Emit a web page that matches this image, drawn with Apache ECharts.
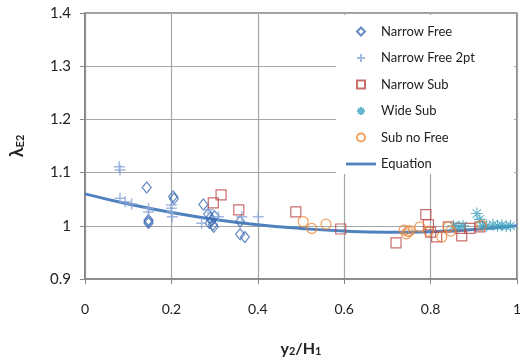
<!DOCTYPE html>
<html><head><meta charset="utf-8">
<script src="https://cdn.jsdelivr.net/npm/echarts@6/dist/echarts.min.js"></script>
<style>html,body{margin:0;padding:0;background:#fff}#c{width:520px;height:362px}</style>
</head><body><div id="c"></div>
<script>
var xTicks = [0, 0.2, 0.4, 0.6, 0.8, 1];
var yTicks = [0.9, 1, 1.1, 1.2, 1.3, 1.4];
var seriesNames = ['Narrow Free', 'Narrow Free 2pt', 'Narrow Sub', 'Wide Sub', 'Sub no Free', 'Equation'];

var narrowFree = [[0.143,1.072],[0.147,1.011],[0.147,1.008],[0.147,1.005],[0.204,1.055],[0.206,1.051],
  [0.274,1.040],[0.285,1.022],[0.290,1.015],[0.293,1.010],[0.288,1.005],[0.296,1.002],[0.298,0.998],
  [0.300,1.018],[0.359,1.008],[0.359,0.984],[0.370,0.979]];
var narrowFree2pt = [[0.079,1.111],[0.081,1.105],[0.081,1.052],[0.093,1.045],[0.108,1.041],[0.147,1.033],
  [0.147,1.026],[0.200,1.039],[0.200,1.033],[0.200,1.026],[0.202,1.017],[0.270,1.005],[0.285,1.030],
  [0.309,1.017],[0.363,1.017],[0.401,1.017]];
var narrowSub = [[0.297,1.043],[0.315,1.058],[0.356,1.030],[0.488,1.026],[0.592,0.994],[0.720,0.968],
  [0.789,1.021],[0.795,1.002],[0.800,0.988],[0.814,0.979],[0.841,0.998],[0.868,0.995],[0.872,0.981],
  [0.891,0.995],[0.914,0.998]];
var wideSub = [[0.853,1.000],[0.865,0.998],[0.875,1.000],[0.907,1.023],[0.914,1.012],[0.920,1.000],
  [0.930,1.000],[0.944,1.002],[0.955,1.000],[0.965,1.001],[0.975,0.999],[0.985,1.000]];
var subNoFree = [[0.505,1.008],[0.525,0.995],[0.558,1.003],[0.739,0.992],[0.744,0.985],[0.748,0.989],
  [0.752,0.991],[0.775,0.998],[0.795,0.990],[0.826,0.979],[0.841,0.998],[0.847,0.990],[0.918,1.001]];
var equation = [[0,1.060],[0.1,1.041],[0.2,1.025],[0.3,1.012],[0.4,1.002],[0.5,0.995],[0.6,0.990],
  [0.7,0.988],[0.8,0.989],[0.9,0.993],[1.0,1.000]];

var font = 'Lato, "Open Sans", sans-serif';
function hollow(c){ return {color:'rgba(255,255,255,0)', borderColor:c, borderWidth:1.2}; }
var plusPath = 'path://M5,0L5,10M0,5L10,5';
var starPath = 'path://M5,0L5,10M0,5L10,5M1.5,1.5L8.5,8.5M8.5,1.5L1.5,8.5';
var legendIcons = [
  'path://M5,0L10,5L5,10L0,5Z',
  plusPath,
  'path://M0,0L10,0L10,10L0,10Z',
  starPath,
  'path://M5,0A5,5 0 1,1 5,10A5,5 0 1,1 5,0Z',
  'path://M0,0H32V3H0Z'
];
var legendData = seriesNames.map(function(n, i){ return {name:n, icon:legendIcons[i]}; });

var chart = echarts.init(document.getElementById('c'));
chart.setOption({
  animation:false,
  grid:{left:85, right:3, top:13, bottom:83, containLabel:false, outerBoundsMode:'none',
    show:true, borderColor:'#404040', borderWidth:1.2, backgroundColor:'transparent'},
  xAxis:{type:'value', min:xTicks[0], max:xTicks[xTicks.length-1], interval:0.2,
    axisLine:{show:true, onZero:false, lineStyle:{color:'#868686', width:1.5}},
    axisTick:{show:true, length:5, lineStyle:{color:'#868686'}},
    splitLine:{show:true, lineStyle:{color:'#a6a6a6', width:1.2}},
    axisLabel:{margin:23, fontSize:14, color:'#222', fontFamily:font},
    name:'{a|y}{s|2}{a|/H}{s|1}', nameLocation:'middle', nameGap:61,
    nameTextStyle:{rich:{a:{fontSize:16, fontWeight:'bold', color:'#222', fontFamily:font},
      s:{fontSize:11, fontWeight:'bold', color:'#222', fontFamily:font, verticalAlign:'bottom', padding:[6,0,0,0]}}}},
  yAxis:{type:'value', min:yTicks[0], max:yTicks[yTicks.length-1], interval:0.1,
    axisLine:{show:true, onZero:false, lineStyle:{color:'#868686', width:1.5}},
    axisTick:{show:true, length:5, lineStyle:{color:'#868686'}},
    splitLine:{show:true, lineStyle:{color:'#a6a6a6', width:1.2}},
    axisLabel:{margin:14, fontSize:15, color:'#222', fontFamily:font,
      formatter:function(v){return String(Math.round(v*10)/10);}},
    name:'{a|λ}{s|E2}', nameLocation:'middle', nameGap:59, nameRotate:90,
    nameTextStyle:{rich:{a:{fontSize:18, fontWeight:'bold', color:'#222', fontFamily:font},
      s:{fontSize:11, fontWeight:'bold', color:'#222', fontFamily:font, verticalAlign:'bottom', padding:[6,0,0,0]}}}},
  graphic:[{type:'rect', z:5, shape:{x:336, y:15, width:178, height:159}, style:{fill:'#fff'}}],
  legend:{orient:'vertical', left:341, top:20, z:6, itemWidth:30, itemHeight:8, itemGap:13.5,
    symbolKeepAspect:true,
    textStyle:{fontSize:13, color:'#222', fontFamily:font}, data:legendData},
  series:[
    {name:seriesNames[0], type:'scatter', symbol:'diamond', symbolSize:[9,11], itemStyle:hollow('#3f6db5'), data:narrowFree},
    {name:seriesNames[1], type:'scatter', symbol:plusPath, symbolSize:11, itemStyle:{color:'rgba(0,0,0,0)', borderColor:'#8aa6d8', borderWidth:1.5}, data:narrowFree2pt},
    {name:seriesNames[2], type:'scatter', symbol:'rect', symbolSize:10, itemStyle:hollow('#b94a48'), data:narrowSub},
    {name:seriesNames[3], type:'scatter', symbol:starPath, symbolSize:12, itemStyle:{color:'rgba(0,0,0,0)', borderColor:'#3ea3bf', borderWidth:1.1}, data:wideSub},
    {name:seriesNames[4], type:'scatter', symbol:'circle', symbolSize:10, itemStyle:hollow('#ee8a3a'), data:subNoFree},
    {name:seriesNames[5], type:'line', smooth:true, symbol:'none', lineStyle:{color:'#4f81bd', width:3}, itemStyle:{color:'#4f81bd'}, z:1, data:equation}
  ]
});
</script></body></html>
